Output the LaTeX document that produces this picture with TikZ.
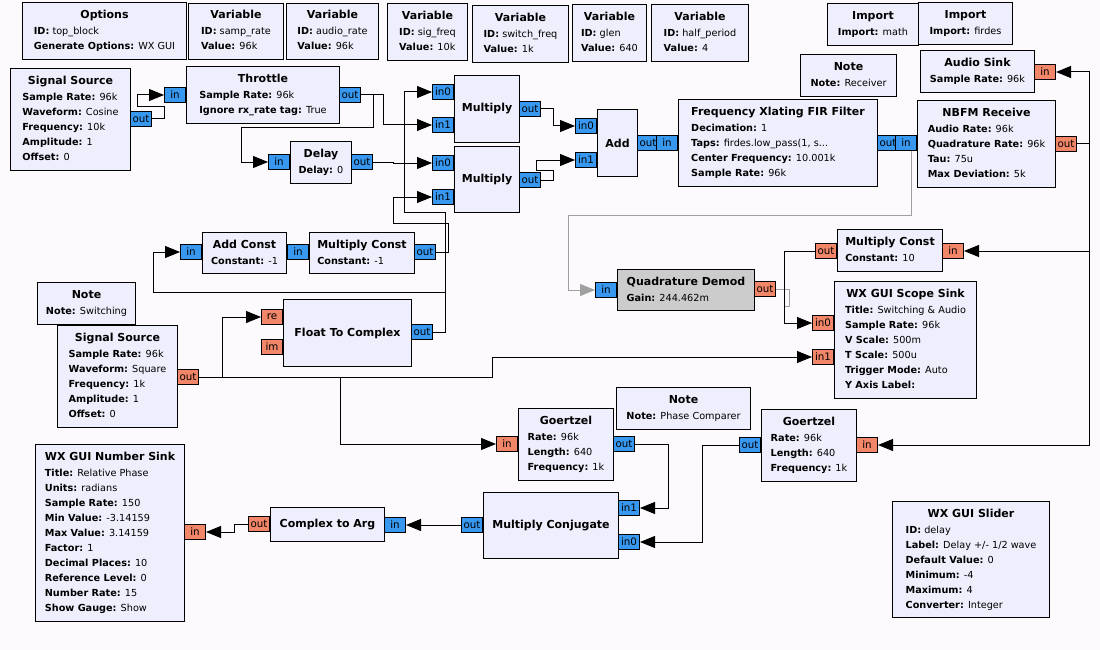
\documentclass[tikz,border=0pt]{standalone}
\usepackage{fontspec}
\setmainfont{DejaVu Sans}
\usetikzlibrary{arrows.meta,backgrounds}

\definecolor{bgcol}{RGB}{252,250,252}
\definecolor{blkfill}{RGB}{238,238,252}
\definecolor{cpxcol}{RGB}{56,152,240}
\definecolor{fltcol}{RGB}{242,134,104}
\definecolor{discol}{RGB}{204,204,204}
\definecolor{wiregray}{RGB}{160,160,160}

\newcommand{\ttl}{\fontsize{11}{13}\selectfont\bfseries}
\newcommand{\kv}[2]{\textbf{#1:} #2}
\newcommand{\btext}[2]{\begin{tabular}{@{}l@{}}\multicolumn{1}{@{}c@{}}{\ttl #1}\\[1pt]#2\end{tabular}}

\begin{document}
\begin{tikzpicture}[x=1pt, y=-1pt,
    blk/.style={draw=black, fill=blkfill, line width=1pt, anchor=north west,
        inner sep=0pt, font=\fontsize{9.7}{15}\selectfont},
    dis/.style={blk, fill=discol},
    cpx/.style={draw=black, fill=cpxcol, line width=1pt, minimum width=21,
        minimum height=15, inner sep=0pt, font=\fontsize{10.3}{11}\selectfont},
    flt/.style={cpx, fill=fltcol},
    wire/.style={line width=1pt, -{Triangle[length=15pt,width=12pt]}},
    gwire/.style={wire, draw=wiregray, -{Triangle[length=15pt,width=12pt,fill=wiregray]}},
    gline/.style={line width=1pt, draw=wiregray}]

    \begin{scope}[on background layer]
        \fill[bgcol] (0,0) rectangle (1100,650);
    \end{scope}

    % variables, imports, notes
    \node[blk, minimum width=164, minimum height=57] (opt) at (22,2)
        {\btext{Options}{\kv{ID}{top\_block}\\\kv{Generate Options}{WX GUI}}};
    \node[blk, minimum width=95, minimum height=56] (vsamp) at (188,3)
        {\btext{Variable}{\kv{ID}{samp\_rate}\\\kv{Value}{96k}}};
    \node[blk, minimum width=92, minimum height=56] (vaudio) at (286,3)
        {\btext{Variable}{\kv{ID}{audio\_rate}\\\kv{Value}{96k}}};
    \node[blk, minimum width=80, minimum height=57] (vsig) at (387,3)
        {\btext{Variable}{\kv{ID}{sig\_freq}\\\kv{Value}{10k}}};
    \node[blk, minimum width=96, minimum height=57] (vswitch) at (472,5)
        {\btext{Variable}{\kv{ID}{switch\_freq}\\\kv{Value}{1k}}};
    \node[blk, minimum width=74, minimum height=57] (vglen) at (572,4)
        {\btext{Variable}{\kv{ID}{glen}\\\kv{Value}{640}}};
    \node[blk, minimum width=97, minimum height=57] (vhalf) at (651,4)
        {\btext{Variable}{\kv{ID}{half\_period}\\\kv{Value}{4}}};
    \node[blk, minimum width=91, minimum height=42] (impmath) at (827,3)
        {\btext{Import}{\kv{Import}{math}}};
    \node[blk, minimum width=94, minimum height=42] (impfir) at (918,2)
        {\btext{Import}{\kv{Import}{firdes}}};
    \node[blk, minimum width=96, minimum height=42] (noterx) at (800,54)
        {\btext{Note}{\kv{Note}{Receiver}}};
    \node[blk, minimum width=98, minimum height=42] (notesw) at (37,282)
        {\btext{Note}{\kv{Note}{Switching}}};
    \node[blk, minimum width=134, minimum height=42] (notepc) at (616,387)
        {\btext{Note}{\kv{Note}{Phase Comparer}}};
    \node[blk, minimum width=157, minimum height=116] (slider) at (892,501)
        {\btext{WX GUI Slider}{\kv{ID}{delay}\\\kv{Label}{Delay +/- 1/2 wave}\\
        \kv{Default Value}{0}\\\kv{Minimum}{-4}\\\kv{Maximum}{4}\\\kv{Converter}{Integer}}};

    % upper chain
    \node[blk, minimum width=120, minimum height=102] (src1) at (10,68)
        {\btext{Signal Source}{\kv{Sample Rate}{96k}\\\kv{Waveform}{Cosine}\\
        \kv{Frequency}{10k}\\\kv{Amplitude}{1}\\\kv{Offset}{0}}};
    \node[blk, minimum width=153, minimum height=57] (thr) at (186,66)
        {\btext{Throttle}{\kv{Sample Rate}{96k}\\\kv{Ignore rx\_rate tag}{True}}};
    \node[blk, minimum width=61, minimum height=42] (dly) at (290,141)
        {\btext{Delay}{\kv{Delay}{0}}};
    \node[blk, minimum width=65, minimum height=67] (mul1) at (454,75) {\ttl Multiply};
    \node[blk, minimum width=65, minimum height=66] (mul2) at (454,146) {\ttl Multiply};
    \node[blk, minimum width=40, minimum height=67] (add) at (597,109) {\ttl Add};
    \node[blk, minimum width=199, minimum height=87] (xlat) at (678,99)
        {\btext{Frequency Xlating FIR Filter}{\kv{Decimation}{1}\\
        \kv{Taps}{firdes.low\_pass(1, s...}\\\kv{Center Frequency}{10.001k}\\\kv{Sample Rate}{96k}}};
    \node[blk, minimum width=138, minimum height=87] (nbfm) at (917,100)
        {\btext{NBFM Receive}{\kv{Audio Rate}{96k}\\\kv{Quadrature Rate}{96k}\\
        \kv{Tau}{75u}\\\kv{Max Deviation}{5k}}};
    \node[blk, minimum width=114, minimum height=42] (audio) at (920,50)
        {\btext{Audio Sink}{\kv{Sample Rate}{96k}}};

    % switching
    \node[blk, minimum width=84, minimum height=41] (addc) at (202,232)
        {\btext{Add Const}{\kv{Constant}{-1}}};
    \node[blk, minimum width=105, minimum height=41] (mulc) at (309,232)
        {\btext{Multiply Const}{\kv{Constant}{-1}}};
    \node[blk, minimum width=120, minimum height=102] (src2) at (57,325)
        {\btext{Signal Source}{\kv{Sample Rate}{96k}\\\kv{Waveform}{Square}\\
        \kv{Frequency}{1k}\\\kv{Amplitude}{1}\\\kv{Offset}{0}}};
    \node[blk, minimum width=128, minimum height=67] (f2c) at (283,299) {\ttl Float To Complex};

    % demod and scope
    \node[dis, minimum width=137, minimum height=41] (qd) at (617,269)
        {\btext{Quadrature Demod}{\kv{Gain}{244.462m}}};
    \node[blk, minimum width=105, minimum height=42] (mc10) at (837,229)
        {\btext{Multiply Const}{\kv{Constant}{10}}};
    \node[blk, minimum width=142, minimum height=117] (scope) at (834,281)
        {\btext{WX GUI Scope Sink}{\kv{Title}{Switching \& Audio}\\\kv{Sample Rate}{96k}\\
        \kv{V Scale}{500m}\\\kv{T Scale}{500u}\\\kv{Trigger Mode}{Auto}\\\kv{Y Axis Label}{}}};

    % phase comparer
    \node[blk, minimum width=95, minimum height=72] (gz1) at (518,408)
        {\btext{Goertzel}{\kv{Rate}{96k}\\\kv{Length}{640}\\\kv{Frequency}{1k}}};
    \node[blk, minimum width=95, minimum height=72] (gz2) at (761,409)
        {\btext{Goertzel}{\kv{Rate}{96k}\\\kv{Length}{640}\\\kv{Frequency}{1k}}};
    \node[blk, minimum width=135, minimum height=66] (mcj) at (483,492) {\ttl Multiply Conjugate};
    \node[blk, minimum width=114, minimum height=34] (c2a) at (270,507) {\ttl Complex to Arg};
    \node[blk, minimum width=149, minimum height=177] (nsink) at (35,444)
        {\btext{WX GUI Number Sink}{\kv{Title}{Relative Phase}\\\kv{Units}{radians}\\
        \kv{Sample Rate}{150}\\\kv{Min Value}{-3.14159}\\\kv{Max Value}{3.14159}\\
        \kv{Factor}{1}\\\kv{Decimal Places}{10}\\\kv{Reference Level}{0}\\
        \kv{Number Rate}{15}\\\kv{Show Gauge}{Show}}};

    % ports
    \node[cpx, anchor=west] (src1-out) at (130,119) {out};
    \node[cpx, anchor=east] (thr-in) at (186,95) {in};
    \node[cpx, anchor=west] (thr-out) at (339,95) {out};
    \node[cpx, anchor=east] (dly-in) at (290,162) {in};
    \node[cpx, anchor=west] (dly-out) at (351,162) {out};
    \node[cpx, anchor=east] (mul1-in0) at (454,92) {in0};
    \node[cpx, anchor=east] (mul1-in1) at (454,125) {in1};
    \node[cpx, anchor=west] (mul1-out) at (519,109) {out};
    \node[cpx, anchor=east] (mul2-in0) at (454,163) {in0};
    \node[cpx, anchor=east] (mul2-in1) at (454,197) {in1};
    \node[cpx, anchor=west] (mul2-out) at (519,180) {out};
    \node[cpx, anchor=east] (add-in0) at (597,126) {in0};
    \node[cpx, anchor=east] (add-in1) at (597,160) {in1};
    \node[cpx, anchor=west] (add-out) at (637,143) {out};
    \node[cpx, anchor=east] (xlat-in) at (678,143) {in};
    \node[cpx, anchor=west] (xlat-out) at (877,143) {out};
    \node[cpx, anchor=east] (nbfm-in) at (917,143) {in};
    \node[flt, anchor=west] (nbfm-out) at (1055,144) {out};
    \node[flt, anchor=west] (audio-in) at (1034,72) {in};
    \node[cpx, anchor=west] (addc-out) at (286,252) {};
    \node[cpx, anchor=east] (addc-in) at (202,252) {in};
    \node[cpx, anchor=east] (mulc-in) at (309,252) {in};
    \node[cpx, anchor=west] (mulc-out) at (414,252) {out};
    \node[flt, anchor=west] (src2-out) at (177,377) {out};
    \node[flt, anchor=east] (f2c-re) at (283,317) {re};
    \node[flt, anchor=east] (f2c-im) at (283,347) {im};
    \node[cpx, anchor=west] (f2c-out) at (411,332) {out};
    \node[cpx, anchor=east] (qd-in) at (617,290) {in};
    \node[flt, anchor=west] (qd-out) at (754,289) {out};
    \node[flt, anchor=east] (mc10-out) at (837,251) {out};
    \node[flt, anchor=west] (mc10-in) at (942,251) {in};
    \node[flt, anchor=east] (scope-in0) at (834,323) {in0};
    \node[flt, anchor=east] (scope-in1) at (834,357) {in1};
    \node[flt, anchor=east] (gz1-in) at (518,444) {in};
    \node[cpx, anchor=west] (gz1-out) at (613,444) {out};
    \node[cpx, anchor=east] (gz2-out) at (761,445) {out};
    \node[flt, anchor=west] (gz2-in) at (856,445) {in};
    \node[cpx, anchor=west] (mcj-in1) at (618,508) {in1};
    \node[cpx, anchor=west] (mcj-in0) at (618,542) {in0};
    \node[cpx, anchor=east] (mcj-out) at (483,525) {out};
    \node[cpx, anchor=west] (c2a-in) at (384,525) {in};
    \node[flt, anchor=east] (c2a-out) at (270,524) {out};
    \node[flt, anchor=west] (nsink-in) at (184,532) {in};

    % connections
    \begin{scope}[on background layer]
        \draw[wire] (src1-out.east) -- (164,119) -- (164,107) -- (137,107) |- (thr-in.west);
        \draw[wire] (thr-out.east) -- (383,95) |- (mul1-in1.west);
        \draw[wire] (thr-out.east) -- (373,95) |- (241,128) |- (dly-in.west);
        \draw[wire] (dly-out.east) -- (393,162) |- (mul2-in0.west);
        \draw[wire] (f2c-out.east) -- (445,332) |- (404,212) |- (mul1-in0.west);
        \draw[wire] (f2c-out.east) -- (445,332) |- (153,292) |- (addc-in.west);
        \draw[wire] (mulc-out.east) -- (448,252) |- (393,223) |- (mul2-in1.west);
        \draw[wire] (mul1-out.east) -- (553,109) |- (add-in0.west);
        \draw[wire] (mul2-out.east) -- (553,180) |- (536,170) |- (add-in1.west);
        \draw[gwire] (xlat-out.east) -- (911,143) |- (568,215) |- (qd-in.west);
        \draw[wire] (nbfm-out.east) -- (1089,144) |- (audio-in.east);
        \draw[wire] (nbfm-out.east) -- (1089,144) |- (mc10-in.east);
        \draw[wire] (nbfm-out.east) -- (1089,144) |- (gz2-in.east);
        \draw[gline] (qd-out.east) -- (789,289) |- (784,306) |- (scope-in0.west);
        \draw[wire] (mc10-out.west) -- (784,251) |- (scope-in0.west);
        \draw[wire] (src2-out.east) -- (222,377) |- (f2c-re.west);
        \draw[wire] (src2-out.east) -- (492,377) |- (scope-in1.west);
        \draw[wire] (src2-out.east) -- (340,377) |- (gz1-in.west);
        \draw[wire] (gz1-out.east) -- (668,444) |- (mcj-in1.east);
        \draw[wire] (gz2-out.west) -- (702,445) |- (mcj-in0.east);
        \draw[wire] (mcj-out.west) -- (c2a-in.east);
        \draw[wire] (c2a-out.west) -- (234,524) |- (nsink-in.east);
    \end{scope}
\end{tikzpicture}
\end{document}
